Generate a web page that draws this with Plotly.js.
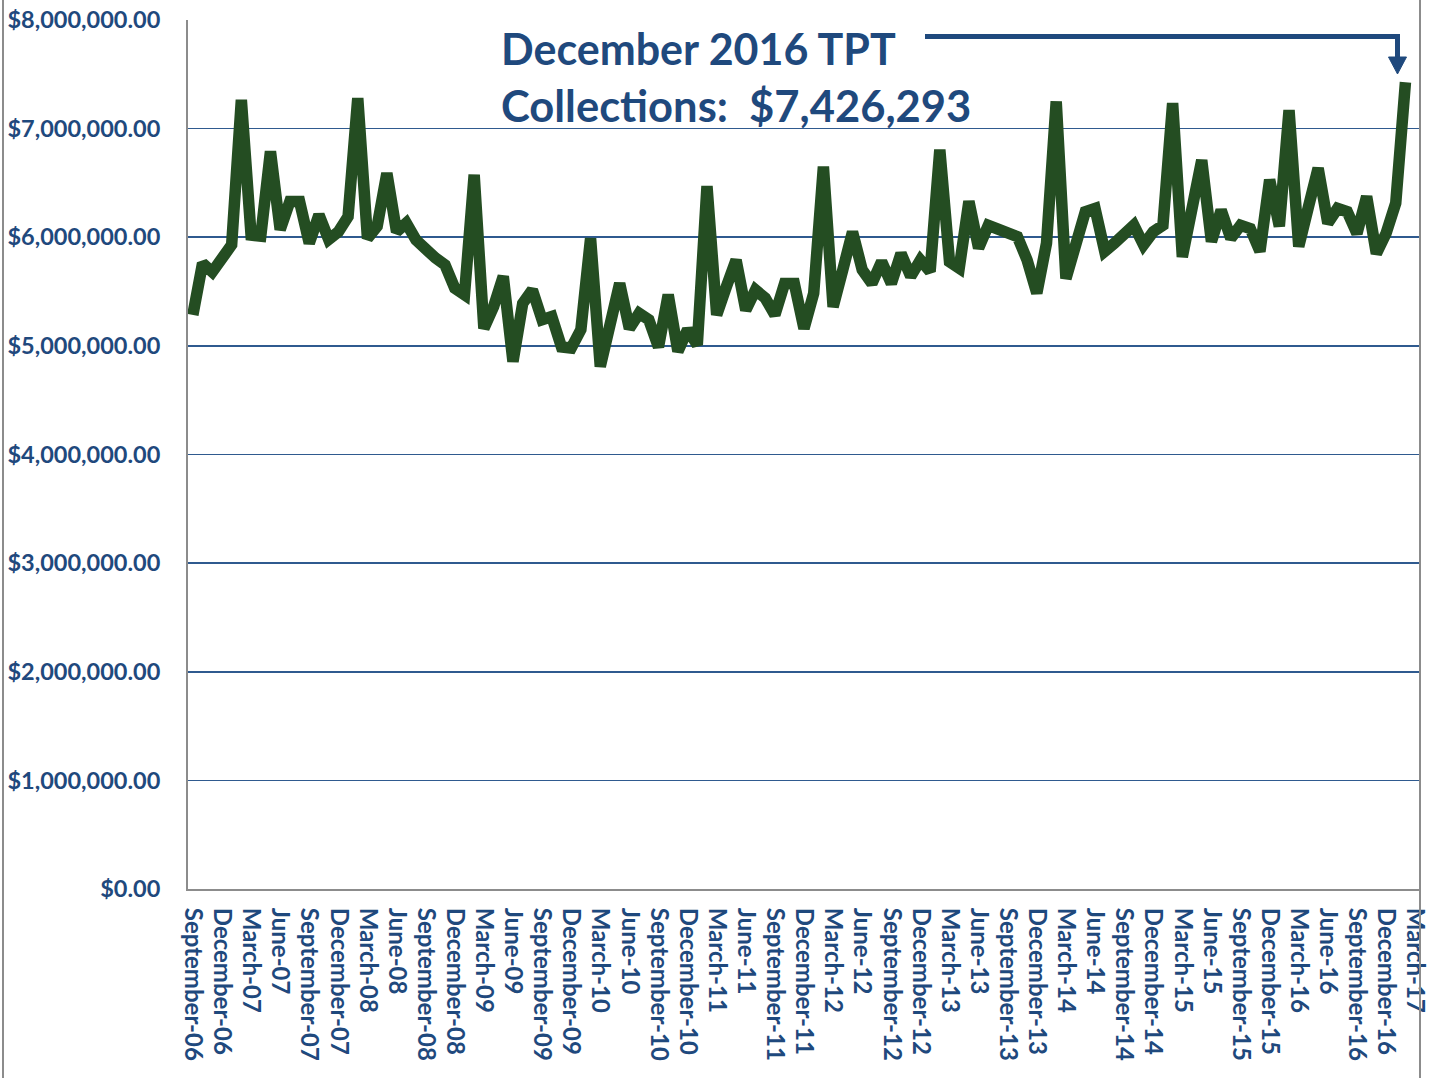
<!DOCTYPE html>
<html>
<head>
<meta charset="utf-8">
<script src="https://cdn.plot.ly/plotly-3.0.1.min.js"></script>
<style>
html,body{margin:0;padding:0;background:#fff;}
#chart{width:1432px;height:1078px;}
</style>
</head>
<body>
<div id="chart"></div>
<script>
// Monthly categories (September 2006 .. March 2017)
const months = [
 "September-06","October-06","November-06","December-06",
 "January-07","February-07","March-07","April-07","May-07","June-07","July-07","August-07","September-07","October-07","November-07","December-07",
 "January-08","February-08","March-08","April-08","May-08","June-08","July-08","August-08","September-08","October-08","November-08","December-08",
 "January-09","February-09","March-09","April-09","May-09","June-09","July-09","August-09","September-09","October-09","November-09","December-09",
 "January-10","February-10","March-10","April-10","May-10","June-10","July-10","August-10","September-10","October-10","November-10","December-10",
 "January-11","February-11","March-11","April-11","May-11","June-11","July-11","August-11","September-11","October-11","November-11","December-11",
 "January-12","February-12","March-12","April-12","May-12","June-12","July-12","August-12","September-12","October-12","November-12","December-12",
 "January-13","February-13","March-13","April-13","May-13","June-13","July-13","August-13","September-13","October-13","November-13","December-13",
 "January-14","February-14","March-14","April-14","May-14","June-14","July-14","August-14","September-14","October-14","November-14","December-14",
 "January-15","February-15","March-15","April-15","May-15","June-15","July-15","August-15","September-15","October-15","November-15","December-15",
 "January-16","February-16","March-16","April-16","May-16","June-16","July-16","August-16","September-16","October-16","November-16","December-16",
 "January-17","February-17","March-17"
];

// TPT collections
const collections = [
 5285000,5760000,5680000,5810000,5930000,7265000,6020000,6010000,6790000,6070000,
 6330000,6330000,5945000,6205000,5980000,6050000,6190000,7280000,5990000,6100000,
 6590000,6050000,6130000,5975000,5880000,5810000,5745000,5530000,5470000,6575000,
 5160000,5360000,5640000,4855000,5390000,5515000,5240000,5270000,4990000,4980000,
 5150000,5990000,4810000,5150000,5575000,5160000,5300000,5240000,4990000,5470000,
 4950000,5150000,5010000,6470000,5285000,5545000,5790000,5330000,5515000,5440000,
 5285000,5575000,5575000,5160000,5485000,6650000,5360000,5700000,6050000,5700000,
 5575000,5775000,5575000,5850000,5640000,5790000,5685000,6805000,5775000,5715000,
 6330000,5900000,6110000,6075000,6040000,6005000,5790000,5485000,5945000,7250000,
 5620000,5915000,6235000,6265000,5870000,5945000,6020000,6110000,5930000,6050000,
 6110000,7235000,5820000,6265000,6710000,5960000,6250000,5990000,6110000,6080000,
 5870000,6530000,6100000,7170000,5915000,6280000,6635000,6130000,6265000,6235000,
 6035000,6375000,5850000,6035000,6315000,7426293,null
];

// Tick labels shown on the category axis (every third month)
const tickLabels = [
 "September-06","December-06","March-07","June-07","September-07","December-07",
 "March-08","June-08","September-08","December-08","March-09","June-09","September-09","December-09",
 "March-10","June-10","September-10","December-10","March-11","June-11","September-11","December-11",
 "March-12","June-12","September-12","December-12","March-13","June-13","September-13","December-13",
 "March-14","June-14","September-14","December-14","March-15","June-15","September-15","December-15",
 "March-16","June-16","September-16","December-16","March-17"
];

const yTicks = [0,1000000,2000000,3000000,4000000,5000000,6000000,7000000,8000000];

const annoLine1 = "December 2016 TPT";
const annoLine2 = "Collections:  $7,426,293";

const BLUE = "#1F497D";
const GREEN = "#244D22";
const FONT = "Lato, 'Open Sans', sans-serif";

const trace = {
  type: "scatter",
  mode: "lines",
  x: months,
  y: collections,
  line: {color: GREEN, width: 11.5, shape: "linear"},
  connectgaps: false,
  hoverinfo: "x+y"
};

// paper-coordinate helpers for decorative arrow
const L = 188, R = 1420, T = 20, B = 889;
const px = x => (x - L) / (R - L);
const py = y => (B - y) / (B - T);

const layout = {
  width: 1432, height: 1078,
  margin: {l: L, r: 1432 - R, t: T, b: 1078 - B},
  paper_bgcolor: "#ffffff",
  plot_bgcolor: "#ffffff",
  showlegend: false,
  xaxis: {
    type: "category",
    categoryorder: "array",
    categoryarray: months,
    range: [-0.5, months.length - 0.5],
    tickmode: "array",
    tickvals: tickLabels,
    ticktext: tickLabels,
    tickangle: 90,
    ticks: "",
    ticklabelstandoff: 12,
    showgrid: false,
    zeroline: false,
    showline: true,
    linecolor: "#8c8c8c",
    linewidth: 2,
    tickfont: {family: FONT, size: 24, color: BLUE, weight: "bold"}
  },
  yaxis: {
    range: [0, 8000000],
    tickmode: "array",
    tickvals: yTicks,
    tickformat: "$,.2f",
    ticks: "",
    ticklabelstandoff: 21,
    showgrid: true,
    gridcolor: "#2F5A8F",
    gridwidth: 1.6,
    zeroline: false,
    showline: true,
    linecolor: "#8c8c8c",
    linewidth: 2,
    tickfont: {family: FONT, size: 23.5, color: BLUE, weight: "bold"}
  },
  shapes: [
    // chart area border lines
    {type: "line", xref: "paper", yref: "paper", x0: px(3), x1: px(3), y0: py(0), y1: py(1078), line: {color: "#8c8c8c", width: 2}, layer: "above"},
    {type: "line", xref: "paper", yref: "paper", x0: px(1420), x1: px(1420), y0: py(0), y1: py(1078), line: {color: "#8c8c8c", width: 2}, layer: "above"},
    // annotation arrow
    {type: "path", xref: "paper", yref: "paper",
     path: `M ${px(925)} ${py(36.5)} L ${px(1397.5)} ${py(36.5)} L ${px(1397.5)} ${py(58)}`,
     line: {color: BLUE, width: 5}, layer: "above"},
    {type: "path", xref: "paper", yref: "paper",
     path: `M ${px(1388.5)} ${py(57)} L ${px(1406.5)} ${py(57)} L ${px(1397.5)} ${py(74)} Z`,
     fillcolor: BLUE, line: {color: BLUE, width: 1}, layer: "above"}
  ],
  annotations: [
    {xref: "paper", yref: "paper", x: px(499), y: py(48), xanchor: "left", yanchor: "middle",
     text: annoLine1, showarrow: false,
     font: {family: FONT, size: 43, color: BLUE, weight: "bold"}},
    {xref: "paper", yref: "paper", x: px(499), y: py(105), xanchor: "left", yanchor: "middle",
     text: annoLine2, showarrow: false,
     font: {family: FONT, size: 43.5, color: BLUE, weight: "bold"}}
  ]
};

Plotly.newPlot("chart", [trace], layout, {displayModeBar: false, staticPlot: true});
</script>
</body>
</html>
